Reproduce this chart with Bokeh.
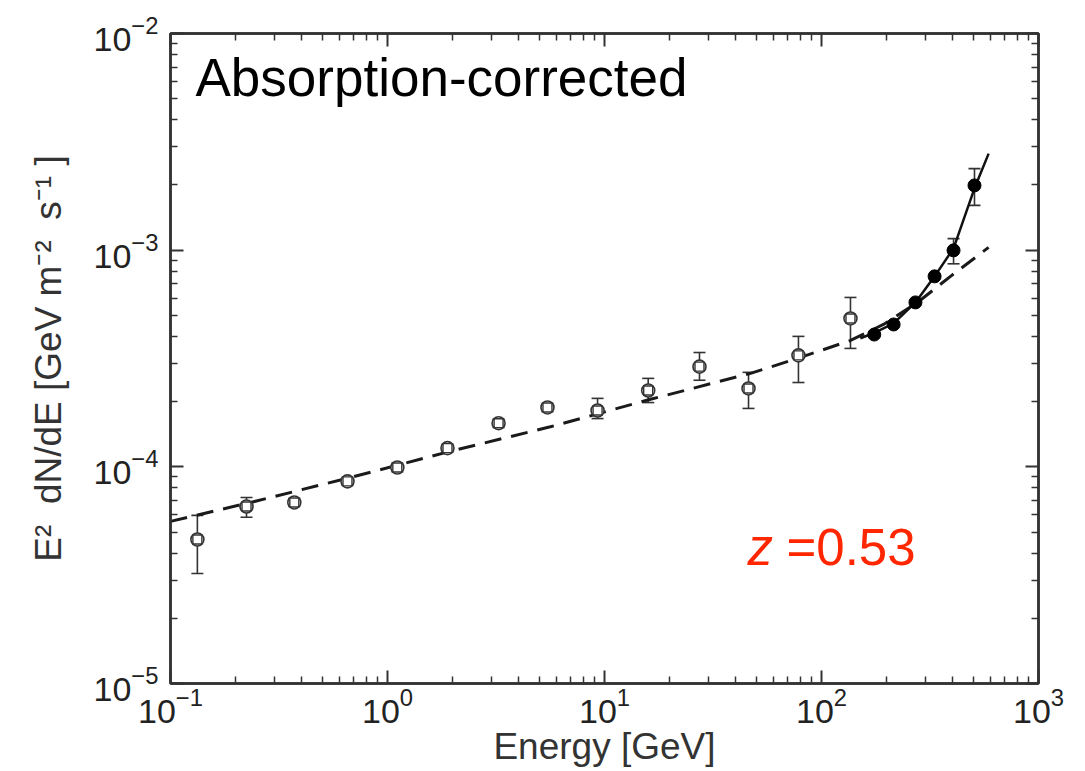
import numpy as np
from bokeh.plotting import figure
from bokeh.models import (Range1d, LogAxis, FixedTicker, Label, Whisker, TeeHead,
                          ColumnDataSource, CustomJSTickFormatter)
from bokeh.embed import file_html
from bokeh.resources import INLINE

FONT = "Liberation Sans"

# ---------------- data ----------------
energy_open = [0.133, 0.224, 0.372, 0.654, 1.11, 1.89, 3.25, 5.46, 9.29, 15.9, 27.4, 46.1, 78.3, 136]
flux_open = [4.62e-5, 6.56e-5, 6.85e-5, 8.57e-5, 9.93e-5, 1.22e-4, 1.59e-4, 1.88e-4,
             1.82e-4, 2.25e-4, 2.90e-4, 2.30e-4, 3.27e-4, 4.84e-4]
flux_open_hi = [5.97e-5, 7.22e-5, 7.15e-5, 8.94e-5, 1.04e-4, 1.27e-4, 1.66e-4, 1.96e-4,
                2.07e-4, 2.56e-4, 3.37e-4, 2.73e-4, 4.00e-4, 6.05e-4]
flux_open_lo = [3.22e-5, 5.85e-5, 6.57e-5, 8.22e-5, 9.50e-5, 1.17e-4, 1.52e-4, 1.80e-4,
                1.67e-4, 1.98e-4, 2.51e-4, 1.86e-4, 2.45e-4, 3.52e-4]

energy_filled = [175, 215, 271, 332, 406, 507]
flux_filled = [4.08e-4, 4.54e-4, 5.74e-4, 7.57e-4, 9.98e-4, 1.99e-3]
flux_filled_hi = [4.08e-4, 4.54e-4, 5.74e-4, 7.57e-4, 1.13e-3, 2.38e-3]
flux_filled_lo = [4.08e-4, 4.54e-4, 5.74e-4, 7.57e-4, 8.65e-4, 1.61e-3]

energy_dashed = [0.1, 0.234, 0.675, 1.95, 5.63, 16.3, 47.1, 80.0, 136, 193, 277, 393, 589]
flux_dashed = [5.60e-5, 6.85e-5, 8.93e-5, 1.18e-4, 1.53e-4, 2.05e-4, 2.70e-4, 3.20e-4,
               3.83e-4, 4.54e-4, 5.74e-4, 7.57e-4, 1.03e-3]

energy_solid = [151, 177, 215, 271, 332, 406, 507, 589]
flux_solid = [3.92e-4, 4.17e-4, 4.59e-4, 5.74e-4, 7.57e-4, 1.02e-3, 1.93e-3, 2.79e-3]

x_major = [0.1, 1, 10, 100, 1000]
y_major = [1e-5, 1e-4, 1e-3, 1e-2]
x_minor = [m * 10.0 ** e for e in range(-1, 3) for m in range(2, 10)]
y_minor = [m * 10.0 ** e for e in range(-5, -2) for m in range(2, 10)]

title_text = "Absorption-corrected"
z_symbol = "z"
z_value = "=0.53"
x_label = "Energy [GeV]"
y_label = "E²\u00a0\u00a0dN/dE [GeV m⁻²\u00a0 s⁻¹\u00a0]"

# ---------------- figure ----------------
p = figure(width=1085, height=771, x_axis_type="log", y_axis_type="log",
           x_range=Range1d(0.1, 1000), y_range=Range1d(1e-5, 1e-2),
           output_backend="svg", toolbar_location=None,
           min_border_left=170, min_border_top=33, min_border_right=47,
           min_border_bottom=88)
p.grid.visible = False
p.background_fill_color = "white"
p.border_fill_color = "white"
p.outline_line_color = "#333333"
p.outline_line_width = 2.5

AX = "#333333"


def style_axis(ax):
    ax.axis_line_color = AX
    ax.axis_line_width = 2.5
    ax.major_tick_in = 13
    ax.major_tick_out = 0
    ax.minor_tick_in = 7
    ax.minor_tick_out = 0
    ax.major_tick_line_color = AX
    ax.minor_tick_line_color = AX
    ax.major_tick_line_width = 2
    ax.minor_tick_line_width = 1.5
    ax.major_label_text_font = FONT
    ax.major_label_text_color = "#222222"
    ax.major_label_text_font_size = "34px"


p.xaxis.ticker = FixedTicker(ticks=x_major, minor_ticks=x_minor)
p.yaxis.ticker = FixedTicker(ticks=y_major, minor_ticks=y_minor)
style_axis(p.xaxis[0])
style_axis(p.yaxis[0])
p.xaxis.major_label_standoff = 4
p.yaxis.major_label_standoff = 12

p.xaxis.axis_label = x_label
p.xaxis.axis_label_text_font = FONT
p.xaxis.axis_label_text_font_size = "37px"
p.xaxis.axis_label_text_font_style = "normal"
p.xaxis.axis_label_text_color = "#333333"
p.xaxis.axis_label_standoff = 0

p.yaxis.axis_label = y_label
p.yaxis.axis_label_text_font = FONT
p.yaxis.axis_label_text_font_size = "37px"
p.yaxis.axis_label_text_font_style = "normal"
p.yaxis.axis_label_text_color = "#333333"
p.yaxis.axis_label_standoff = 22

blank = CustomJSTickFormatter(code="return ''")
ax_r = LogAxis(ticker=FixedTicker(ticks=y_major, minor_ticks=y_minor), formatter=blank)
style_axis(ax_r)
p.add_layout(ax_r, "right")
ax_t = LogAxis(ticker=FixedTicker(ticks=x_major, minor_ticks=x_minor), formatter=blank)
style_axis(ax_t)
p.add_layout(ax_t, "above")

# ---------------- curves ----------------
p.line(energy_dashed, flux_dashed, line_color="#1a1a1a", line_width=3, line_dash="17 10")
p.line(energy_solid, flux_solid, line_color="#111111", line_width=2.5)

# ---------------- error bars ----------------
src_open = ColumnDataSource(dict(x=energy_open, lo=flux_open_lo, hi=flux_open_hi))
p.add_layout(Whisker(base="x", lower="lo", upper="hi", source=src_open, dimension="height",
                     line_color="#333333", line_width=1.6,
                     upper_head=TeeHead(size=12, line_color="#333333", line_width=1.6),
                     lower_head=TeeHead(size=12, line_color="#333333", line_width=1.6)))

idx = [i for i in range(len(energy_filled)) if flux_filled_hi[i] > flux_filled[i]]
src_filled = ColumnDataSource(dict(x=[energy_filled[i] for i in idx],
                                   lo=[flux_filled_lo[i] for i in idx],
                                   hi=[flux_filled_hi[i] for i in idx]))
p.add_layout(Whisker(base="x", lower="lo", upper="hi", source=src_filled, dimension="height",
                     line_color="#333333", line_width=1.6,
                     upper_head=TeeHead(size=12, line_color="#333333", line_width=1.6),
                     lower_head=TeeHead(size=12, line_color="#333333", line_width=1.6)))

# ---------------- markers ----------------
p.scatter(energy_open, flux_open, marker="circle", size=13, fill_color="white",
          line_color="#333333", line_width=1.6)
p.scatter(energy_open, flux_open, marker="square", size=9, fill_color=None,
          line_color="#333333", line_width=1.4)
p.scatter(energy_filled, flux_filled, marker="circle", size=13, fill_color="black",
          line_color="black")

# ---------------- annotations ----------------
p.add_layout(Label(x=25, y=606, x_units="screen", y_units="screen", text=title_text,
                   text_font=FONT, text_font_size="53px", text_color="black",
                   text_baseline="alphabetic", text_align="left"))
p.add_layout(Label(x=577, y=136, x_units="screen", y_units="screen", text=z_symbol,
                   text_font=FONT, text_font_size="51px", text_font_style="italic",
                   text_color="#FF2600", text_baseline="alphabetic"))
p.add_layout(Label(x=616, y=136, x_units="screen", y_units="screen", text=z_value,
                   text_font=FONT, text_font_size="51px",
                   text_color="#FF2600", text_baseline="alphabetic"))

open("out.html", "w").write(file_html(p, INLINE))
